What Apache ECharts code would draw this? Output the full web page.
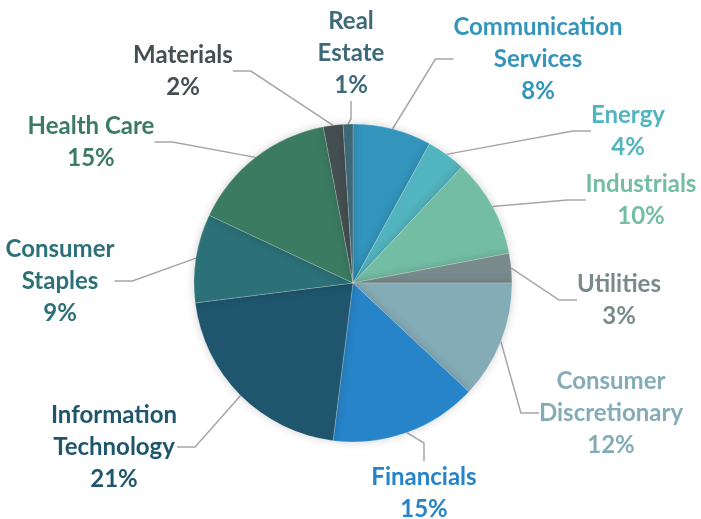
<!DOCTYPE html>
<html>
<head>
<meta charset="utf-8">
<script src="https://cdn.jsdelivr.net/npm/echarts@6/dist/echarts.min.js"></script>
<style>
  html, body { margin: 0; padding: 0; background: #fff; }
  #main { width: 701px; height: 519px; }
</style>
</head>
<body>
<div id="main"></div>
<script>
// sectors, clockwise from 12 o'clock
var sectors = ['Communication\nServices', 'Energy', 'Industrials', 'Utilities',
    'Consumer\nDiscretionary', 'Financials', 'Information\nTechnology',
    'Consumer\nStaples', 'Health Care', 'Materials', 'Real\nEstate'];
var weights = [8, 4, 10, 3, 12, 15, 21, 9, 15, 2, 1];
var colors = ['#3394BC', '#52B4BE', '#74BDA5', '#788A8B', '#84ACB6', '#2784C8',
    '#1F566E', '#2C7078', '#3B7B62', '#444F52', '#3D6978'];

// where each label block sits (center), same order as sectors
var labelSpots = [[538, 59], [628, 131], [641, 200], [619, 300], [611, 413],
    [424, 493], [114, 447], [60, 281], [91, 142], [183, 71], [351, 53]];

var myChart = echarts.init(document.getElementById('main'));

var pieData = sectors.map(function (name, i) {
    return {
        name: name,
        value: weights[i],
        itemStyle: { color: colors[i] },
        label: { color: colors[i] }
    };
});

myChart.setOption({
    animation: false,
    series: [{
        type: 'pie',
        center: [353, 283],
        radius: [0, 159],
        startAngle: 90,
        clockwise: true,
        data: pieData,
        itemStyle: {
            borderColor: 'rgba(255,255,255,0.35)',
            borderWidth: 0.6,
            shadowBlur: 10,
            shadowColor: 'rgba(0,0,0,0.18)'
        },
        label: {
            show: true,
            position: 'outside',
            formatter: '{b}\n{c}%',
            fontFamily: 'Lato',
            fontWeight: 'bold',
            fontSize: 24,
            lineHeight: 32,
            align: 'center'
        },
        labelLine: {
            show: true,
            length: 20,
            length2: 18,
            lineStyle: { color: '#A6A6A6', width: 1.5 }
        },
        labelLayout: function (params) {
            var p = labelSpots[params.dataIndex];
            return {
                x: p[0],
                y: p[1],
                align: 'center',
                verticalAlign: 'middle'
            };
        }
    }]
});
</script>
</body>
</html>
